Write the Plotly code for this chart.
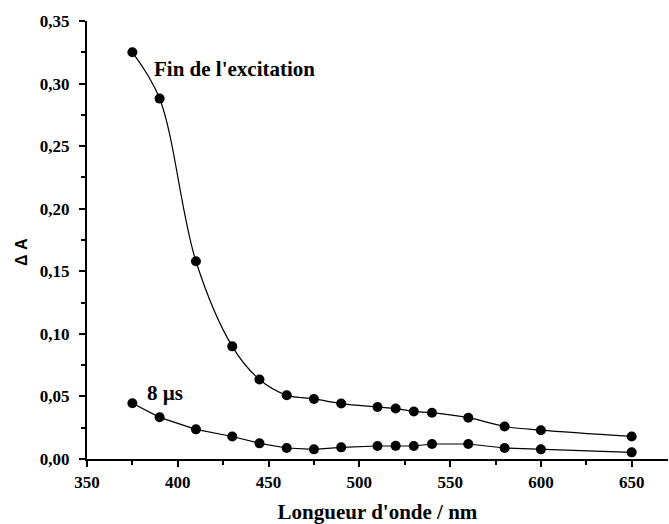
import plotly.graph_objects as go

wavelength = [375, 390, 410, 430, 445, 460, 475, 490, 510, 520, 530, 540, 560, 580, 600, 650]
fin_excitation = [0.325, 0.288, 0.158, 0.090, 0.0635, 0.051, 0.048, 0.0443, 0.0416, 0.0403,
                  0.038, 0.037, 0.033, 0.026, 0.023, 0.018]
delay_8us = [0.0445, 0.0333, 0.0237, 0.018, 0.0125, 0.0088, 0.0077, 0.0093, 0.0104, 0.0105,
             0.0104, 0.012, 0.012, 0.0088, 0.0077, 0.0053]

x_ticks = [350, 400, 450, 500, 550, 600, 650]
y_ticks = [0.0, 0.05, 0.10, 0.15, 0.20, 0.25, 0.30, 0.35]

serif = "Liberation Serif"

fig = go.Figure()
fig.add_trace(go.Scatter(
    x=wavelength, y=fin_excitation, mode="lines+markers",
    line=dict(color="black", width=1.2, shape="spline", smoothing=1.0),
    marker=dict(color="black", size=10, symbol="circle"),
    showlegend=False, name="Fin de l'excitation"))
fig.add_trace(go.Scatter(
    x=wavelength, y=delay_8us, mode="lines+markers",
    line=dict(color="black", width=1.2),
    marker=dict(color="black", size=10, symbol="circle"),
    showlegend=False, name="8 µs"))

axis_common = dict(
    showline=True, linecolor="black", linewidth=2, ticks="outside", ticklen=6,
    tickwidth=2, tickcolor="black", showgrid=False, zeroline=False,
    tickfont=dict(family=serif, size=17, color="black", weight="bold"),
)

fig.update_xaxes(range=[350, 670], tickvals=x_ticks, ticktext=[str(v) for v in x_ticks],
                 minor=dict(dtick=25, tick0=350, ticks="outside", ticklen=4, tickwidth=2, tickcolor="black"),
                 ticklabelstandoff=1,
                 title=dict(text="Longueur d'onde / nm", standoff=16,
                            font=dict(family=serif, size=21, color="black", weight="bold")),
                 **axis_common)
fig.update_yaxes(range=[0, 0.35], tickvals=y_ticks, tickformat=".2f",
                 minor=dict(dtick=0.025, tick0=0, ticks="outside", ticklen=4, tickwidth=2, tickcolor="black"),
                 ticklabelstandoff=6,
                 **axis_common)

plot_w = 669 - 87 - 1
plot_h = 524 - 21 - 65

fig.add_annotation(x=386, y=0.312, xref="x", yref="y", text="Fin de l'excitation",
                   showarrow=False, xanchor="left", yanchor="middle",
                   font=dict(family=serif, size=21, color="black", weight="bold"))
fig.add_annotation(x=382.0, y=0.0528, xref="x", yref="y", text="8 µs",
                   showarrow=False, xanchor="left", yanchor="middle",
                   font=dict(family=serif, size=21, color="black", weight="bold"))
fig.add_annotation(x=(21 - 87) / plot_w, y=(524 - 65 - 252) / plot_h, xref="paper", yref="paper",
                   text="Δ A", showarrow=False, textangle=-90, xanchor="center", yanchor="middle",
                   font=dict(family="Liberation Sans", size=16, color="black", weight="bold"))

fig.update_layout(
    width=669, height=524,
    margin=dict(l=87, r=1, t=21, b=65),
    paper_bgcolor="white", plot_bgcolor="white",
    separators=", ",
)

fig.write_html("out.html", config={"displayModeBar": False},
               post_script="document.body.style.margin='0';document.body.style.overflow='hidden';")
